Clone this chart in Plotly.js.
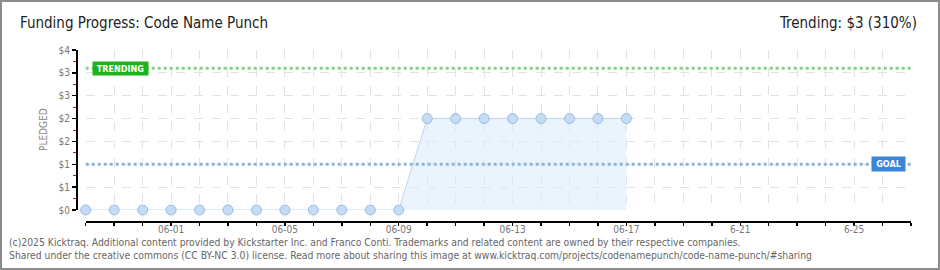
<!DOCTYPE html>
<html>
<head>
<meta charset="utf-8">
<script src="https://cdn.plot.ly/plotly-3.0.1.min.js"></script>
<style>
html,body{margin:0;padding:0;background:#fff;}
#wrap{position:relative;width:940px;height:270px;}
#chart{width:940px;height:270px;}
#frame{position:absolute;left:0;top:0;width:940px;height:270px;box-sizing:border-box;border:2px solid #8c8c8c;pointer-events:none;}
</style>
</head>
<body>
<div id="wrap"><div id="chart"></div><div id="frame"></div></div>
<script>
// ---- data ----
const dates = ['2025-05-29','2025-05-30','2025-05-31','2025-06-01','2025-06-02','2025-06-03','2025-06-04','2025-06-05','2025-06-06','2025-06-07','2025-06-08','2025-06-09','2025-06-10','2025-06-11','2025-06-12','2025-06-13','2025-06-14','2025-06-15','2025-06-16','2025-06-17'];
const pledged = [0,0,0,0,0,0,0,0,0,0,0,0,2,2,2,2,2,2,2,2];
const goal = 1;
const trending = 3.1;
const xRange = ['2025-05-29','2025-06-27'];
const xTickDays = ['2025-05-29','2025-05-30','2025-05-31','2025-06-01','2025-06-02','2025-06-03','2025-06-04','2025-06-05','2025-06-06','2025-06-07','2025-06-08','2025-06-09','2025-06-10','2025-06-11','2025-06-12','2025-06-13','2025-06-14','2025-06-15','2025-06-16','2025-06-17','2025-06-18','2025-06-19','2025-06-20','2025-06-21','2025-06-22','2025-06-23','2025-06-24','2025-06-25','2025-06-26','2025-06-27'];
const xTickText = ['','','','06-01','','','','06-05','','','','06-09','','','','06-13','','','','06-17','','','','6-21','','','','6-25','',''];
const yTickVals = [0,0.5,1,1.5,2,2.5,3,3.5];
const yTickText = ['$0','$1','$1','$2','$2','$3','$3','$4'];
const yMinorVals = [0.25,0.75,1.25,1.75,2.25,2.75,3.25];
const titleText = 'Funding Progress: Code Name Punch';
const trendText = 'Trending: $3 (310%)';
const footer1 = '(c)2025 Kicktraq. Additional content provided by Kickstarter Inc. and Franco Conti. Trademarks and related content are owned by their respective companies.';
const footer2 = 'Shared under the creative commons (CC BY-NC 3.0) license. Read more about sharing this image at www.kicktraq.com/projects/codenamepunch/code-name-punch/#sharing';

const F = 'DejaVu Sans Condensed, DejaVu Sans, sans-serif';

const traces = [
  {
    // invisible helper so the grid-only axis (x2) is drawn
    x: dates, y: pledged, xaxis: 'x2', yaxis: 'y', type: 'scatter', mode: 'none',
    hoverinfo: 'skip', showlegend: false
  },
  {
    x: dates, y: pledged, type: 'scatter', mode: 'lines+markers',
    fill: 'tozeroy', fillcolor: 'rgba(222,236,252,0.6)',
    line: {color: '#b9d5f3', width: 1},
    marker: {size: 10, color: '#c4dcf6', line: {color: '#9bbbe0', width: 1}},
    cliponaxis: false,
    hoverinfo: 'skip', showlegend: false
  }
];

const xDomain = [9.7/835, 1];

const layout = {
  width: 940, height: 270,
  margin: {l: 76, r: 29, t: 50, b: 49},
  paper_bgcolor: '#fff', plot_bgcolor: '#fff',
  showlegend: false,
  title: {text: titleText, x: 20/940, xanchor: 'left', xref: 'container', y: 1 - 23/270, yref: 'container', yanchor: 'middle',
          font: {family: F, size: 15, color: '#222'}},
  xaxis: {
    type: 'date', range: xRange, domain: xDomain, anchor: 'free', position: 0,
    tickvals: xTickDays, ticktext: xTickText, tickmode: 'array',
    showline: true, linecolor: '#000', linewidth: 1.5,
    ticks: 'outside', ticklen: 3, tickcolor: '#000', tickwidth: 1.5,
    ticklabelstandoff: -5,
    showgrid: false,
    zeroline: false,
    tickfont: {family: F, size: 10, color: '#777'}
  },
  xaxis2: {
    type: 'date', range: xRange, domain: xDomain, anchor: 'y', overlaying: 'x',
    tickvals: xTickDays, tickmode: 'array', showticklabels: false, ticks: '', showline: false,
    showgrid: true, gridcolor: '#e2e2e2', griddash: 'dash', gridwidth: 1, zeroline: false
  },
  yaxis: {
    range: [0, 3.5], domain: [11/171, 1], anchor: 'free', position: 0,
    tickmode: 'array', tickvals: yTickVals, ticktext: yTickText,
    showline: true, linecolor: '#000', linewidth: 1.5,
    ticks: 'outside', ticklen: 4, tickcolor: '#000', tickwidth: 1.5,
    minor: {tickmode: 'array', tickvals: yMinorVals, ticks: 'outside', ticklen: 3, tickcolor: '#e00', tickwidth: 1, showgrid: false},
    showgrid: true, gridcolor: '#e2e2e2', griddash: 'dash', gridwidth: 1,
    zeroline: false,
    tickfont: {family: F, size: 10, color: '#777'}
  },
  shapes: [
    {type: 'line', xref: 'x domain', yref: 'y', x0: 0, x1: 1, y0: goal, y1: goal, line: {color: '#8fb4dc', width: 3, dash: 'dot'}},
    {type: 'line', xref: 'x domain', yref: 'y', x0: 0, x1: 1, y0: trending, y1: trending, line: {color: '#86d186', width: 3, dash: 'dot'}}
  ],
  annotations: [
    {text: '<b>TRENDING</b>', xref: 'paper', yref: 'y', x: (120.5-76)/835, y: trending, xanchor: 'center', yanchor: 'middle', showarrow: false,
     bgcolor: '#1db31d', font: {family: F, size: 9, color: '#fff'}, borderpad: 1, width: 53, height: 11},
    {text: '<b>GOAL</b>', xref: 'paper', yref: 'y', x: (888.5-76)/835, y: goal, xanchor: 'center', yanchor: 'middle', showarrow: false,
     bgcolor: '#3b86d6', font: {family: F, size: 9, color: '#fff'}, borderpad: 1, width: 31, height: 12},
    {text: trendText, xref: 'paper', yref: 'paper', x: (919-76)/835, y: (221-23)/171, xanchor: 'right', yanchor: 'middle', showarrow: false,
     font: {family: F, size: 15, color: '#222'}},
    {text: 'PLEDGED', xref: 'paper', yref: 'paper', x: (43-76)/835, y: (221-130)/171, xanchor: 'center', yanchor: 'middle', textangle: -90, showarrow: false,
     font: {family: F, size: 10, color: '#888'}},
    {text: footer1, xref: 'paper', yref: 'paper', x: (7-76)/835, y: (221-242)/171, xanchor: 'left', yanchor: 'middle', showarrow: false,
     font: {family: F, size: 10.3, color: '#666'}},
    {text: footer2, xref: 'paper', yref: 'paper', x: (7-76)/835, y: (221-255)/171, xanchor: 'left', yanchor: 'middle', showarrow: false,
     font: {family: F, size: 10.3, color: '#666'}}
  ]
};

Plotly.newPlot('chart', traces, layout, {displayModeBar: false, staticPlot: true});
</script>
</body>
</html>
